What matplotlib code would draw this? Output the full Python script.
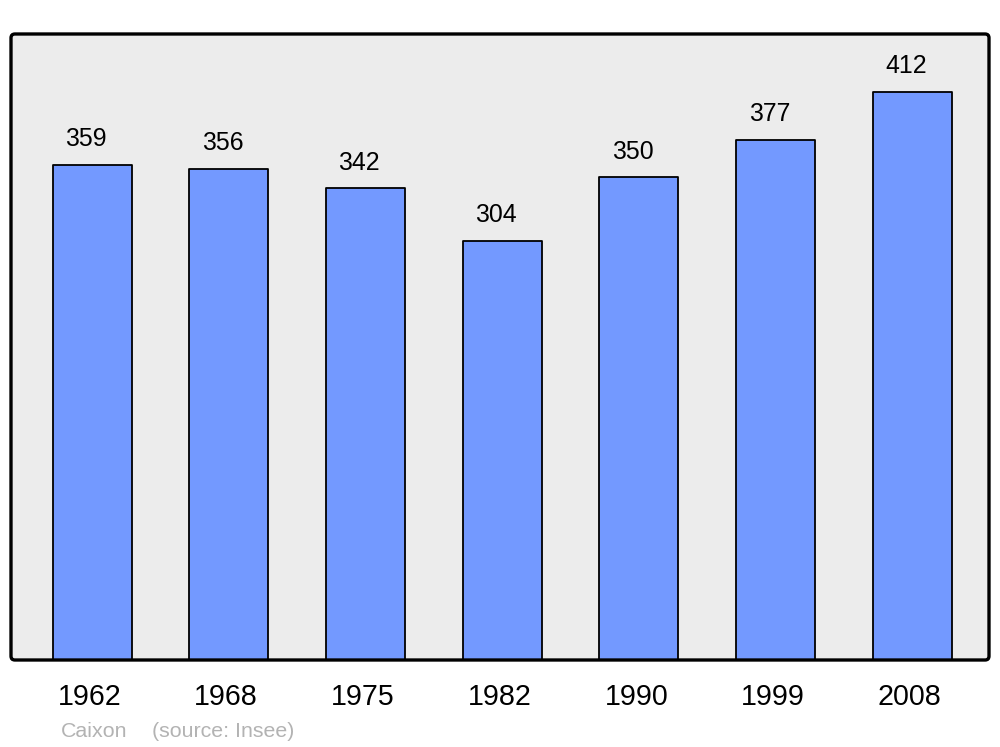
import numpy as np
import matplotlib.pyplot as plt
from matplotlib.patches import FancyBboxPatch

plt.rcParams['font.family'] = ['Liberation Sans', 'DejaVu Sans']

years = ['1962', '1968', '1975', '1982', '1990', '1999', '2008']
population = [359, 356, 342, 304, 350, 377, 412]

W, H = 1000, 747
fig = plt.figure(figsize=(W / 100, H / 100), dpi=100)
ax = fig.add_axes([11 / W, 87 / H, 978 / W, 626 / H])
ax.set_facecolor('#ececec')

x = np.arange(len(years))
bars = ax.bar(x, population, width=0.578, color='#7399ff', edgecolor='black',
              linewidth=1.3, zorder=2)
for b in bars:
    b.set_joinstyle('round')

for xi, v in zip(x, population):
    ax.annotate(str(v), (xi, v), xytext=(-4.5, 13.5), textcoords='offset points',
                ha='center', va='baseline', fontsize=17.9, color='black')

ax.set_xlim(-0.593, 6.562)
ax.set_ylim(0, 454)
ax.set_xticks([])
ax.set_yticks([])
for s in ax.spines.values():
    s.set_visible(False)

# rounded frame
frame = FancyBboxPatch((0, 0), 1, 1, boxstyle='round,pad=0,rounding_size=0.004',
                       mutation_aspect=978 / 626, transform=ax.transAxes,
                       facecolor='none', edgecolor='black', linewidth=2.4,
                       clip_on=False, zorder=5)
ax.add_patch(frame)

for xi, yr in zip(x, years):
    ax.annotate(yr, (xi, 0), xytext=(-1.8, -32.4), textcoords='offset points',
                ha='center', va='baseline', fontsize=20.6, color='black',
                annotation_clip=False)

fig.text(61 / W, 1 - 737 / H, 'Caixon', fontsize=15.4, color='#b3b3b3',
         ha='left', va='baseline')
fig.text(152 / W, 1 - 737 / H, '(source: Insee)', fontsize=15.4, color='#b3b3b3',
         ha='left', va='baseline')

fig.savefig('out.png', dpi=100)
